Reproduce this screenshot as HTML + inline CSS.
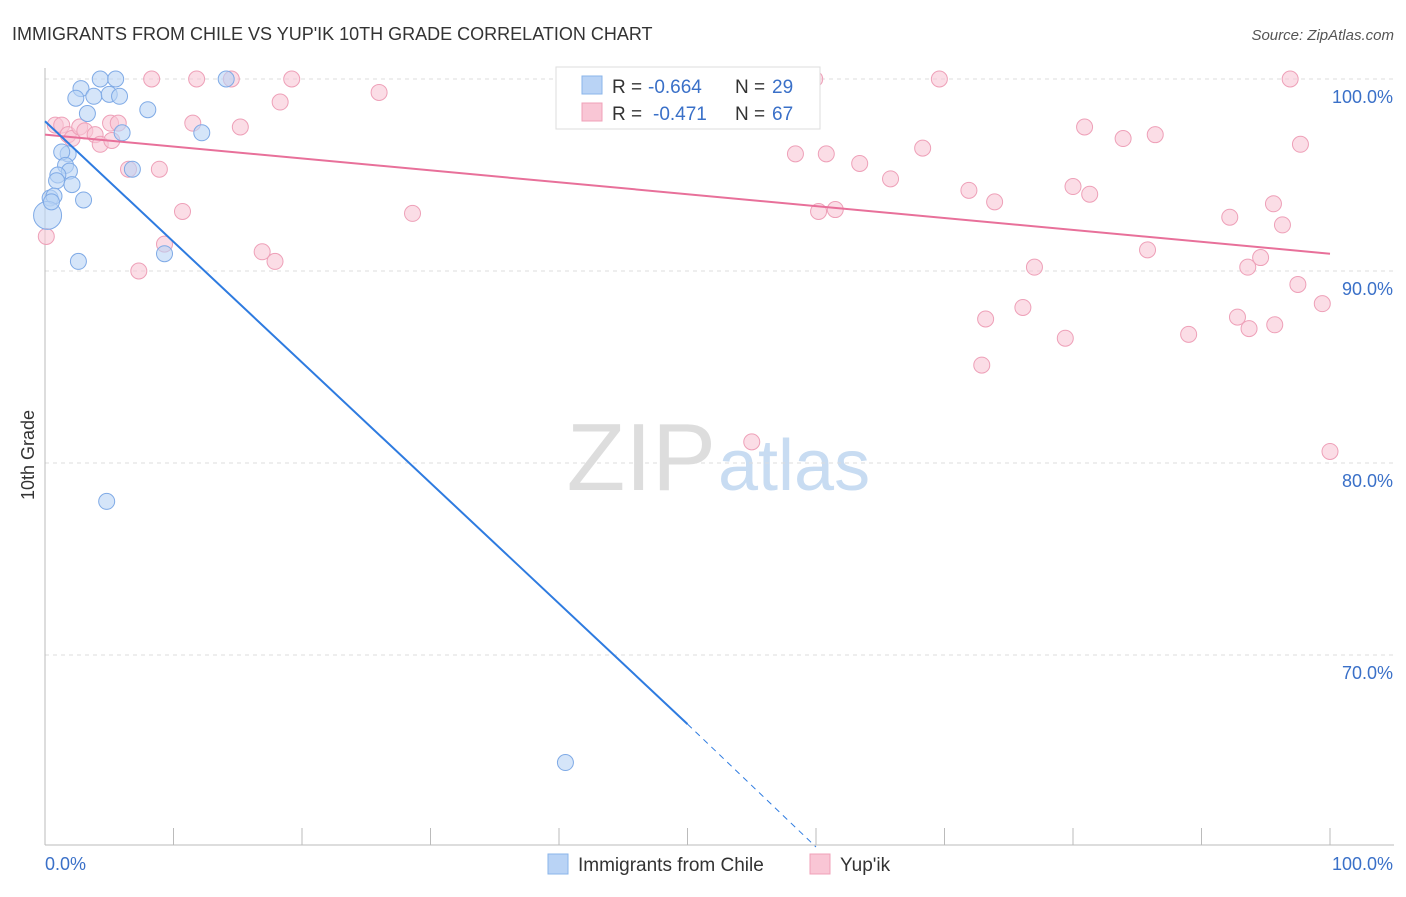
<!DOCTYPE html>
<html><head><meta charset="utf-8"><style>
body{margin:0;background:#fff;font-family:"Liberation Sans",sans-serif;}
svg text{font-family:"Liberation Sans",sans-serif;}
</style></head><body>
<svg id="chart" width="1406" height="892" xmlns="http://www.w3.org/2000/svg">
<text x="12" y="40" font-size="18" fill="#333">IMMIGRANTS FROM CHILE VS YUP'IK 10TH GRADE CORRELATION CHART</text>
<text x="1394" y="40" font-size="15" fill="#555" font-style="italic" text-anchor="end">Source: ZipAtlas.com</text>
<text x="716" y="490" font-size="96" fill="#ddd" text-anchor="end" font-family="Liberation Serif">ZIP</text>
<text x="718" y="490" font-size="72" fill="#c8dcf2">atlas</text>
<g id="grid"></g>
<g id="axes"></g>
<g id="marks"></g>
<text transform="translate(34,455) rotate(-90)" font-size="18" fill="#333" text-anchor="middle">10th Grade</text>
<g>
<rect x="556" y="67" width="264" height="62" fill="#fff" stroke="#ddd"/>
<rect x="582" y="76" width="20" height="18" fill="#b9d3f5" stroke="#8ab4ea"/>
<text x="612" y="93" font-size="19" fill="#333">R =</text>
<text x="648" y="93" font-size="19" fill="#3a70c8">-0.664</text>
<text x="735" y="93" font-size="19" fill="#333">N =</text>
<text x="772" y="93" font-size="19" fill="#3a70c8">29</text>
<rect x="582" y="103" width="20" height="18" fill="#f9c6d5" stroke="#f0a0b8"/>
<text x="612" y="120" font-size="19" fill="#333">R =</text>
<text x="653" y="120" font-size="19" fill="#3a70c8">-0.471</text>
<text x="735" y="120" font-size="19" fill="#333">N =</text>
<text x="772" y="120" font-size="19" fill="#3a70c8">67</text>
</g>
<g>
<rect x="548" y="854" width="20" height="20" fill="#b9d3f5" stroke="#8ab4ea"/>
<text x="578" y="871" font-size="19" fill="#333">Immigrants from Chile</text>
<rect x="810" y="854" width="20" height="20" fill="#f9c6d5" stroke="#f0a0b8"/>
<text x="840" y="871" font-size="19" fill="#333">Yup'ik</text>
</g>
</svg>
<script>
const yTicks=[100,90,80,70];
const yTickLabels=["100.0%","90.0%","80.0%","70.0%"];
const xTickLabels=["0.0%","100.0%"];
const chileX=[4.3,5.5,14.1,2.8,2.4,3.8,5.0,5.8,8.0,3.3,6.0,12.2,1.8,1.3,1.6,6.8,1.9,1.0,0.9,2.1,0.4,0.7,3.0,0.2,9.3,2.6,4.8,40.5,0.5];
const chileY=[100,100,100,99.5,99.0,99.1,99.2,99.1,98.4,98.2,97.2,97.2,96.1,96.2,95.5,95.3,95.2,95.0,94.7,94.5,93.8,93.9,93.7,92.9,90.9,90.5,78.0,64.4,93.6];
const yupikX=[0.8,1.3,1.8,2.1,2.7,3.1,3.9,4.3,5.1,5.7,5.2,6.5,8.3,8.9,11.8,11.5,10.7,14.5,15.2,18.3,19.2,26.0,9.3,7.3,16.9,17.9,28.6,41.5,50.0,55.0,58.4,59.9,60.2,60.8,61.5,63.4,65.8,68.3,69.6,71.9,73.9,77.0,73.2,72.9,76.1,79.4,80.0,81.3,80.9,83.9,86.4,85.8,89.0,92.2,92.8,93.6,93.7,94.6,95.6,95.7,96.3,96.9,97.7,97.5,99.4,100,0.1];
const yupikY=[97.6,97.6,97.1,96.9,97.5,97.3,97.1,96.6,97.7,97.7,96.8,95.3,100,95.3,100,97.7,93.1,100,97.5,98.8,100,99.3,91.4,90.0,91.0,90.5,93.0,100,100,81.1,96.1,100,93.1,96.1,93.2,95.6,94.8,96.4,100,94.2,93.6,90.2,87.5,85.1,88.1,86.5,94.4,94.0,97.5,96.9,97.1,91.1,86.7,92.8,87.6,90.2,87.0,90.7,93.5,87.2,92.4,100,96.6,89.3,88.3,80.6,91.8];
const trendChile=[[0,97.8],[50,66.4]];
const trendChileExt=[[50,66.4],[60,60.0]];
const trendYupik=[[0,97.1],[100,90.9]];
const X0=45,X1=1330,Y100=79,PXPCT=19.2;
const sx=v=>X0+(X1-X0)*v/100;
const sy=v=>Y100+(100-v)*PXPCT;
const NS="http://www.w3.org/2000/svg";
function mk(t,a,p){const e=document.createElementNS(NS,t);for(const k in a)e.setAttribute(k,a[k]);p.appendChild(e);return e;}
const grid=document.getElementById('grid'),axes=document.getElementById('axes'),marks=document.getElementById('marks');
yTicks.forEach((t,i)=>{
 const l=mk('line',{x1:X0,x2:1394,y1:sy(t),y2:sy(t),stroke:'#ddd','stroke-dasharray':'4,4'},grid);
 
 
 const tx=mk('text',{x:1393,y:sy(t)+24,'font-size':18,fill:'#3a70c8','text-anchor':'end'},axes);
 tx.textContent=yTickLabels[i];
 
 
});
const ax=mk('line',{x1:X0,x2:1394,y1:845,y2:845,stroke:'#bbb'},axes);


const ay=mk('line',{x1:X0,x2:X0,y1:68,y2:845,stroke:'#bbb'},axes);


for(let i=0;i<=10;i++){const t=mk('line',{x1:sx(i*10),x2:sx(i*10),y1:828,y2:845,stroke:'#bbb'},axes);
 
 }
[[0,'start',45],[1,'end',1393]].forEach(([i,a,x])=>{const t=mk('text',{x:x,y:870,'font-size':18,fill:'#3a70c8','text-anchor':a},axes);t.textContent=xTickLabels[i];
 
 });
yupikX.forEach((v,i)=>{const c=mk('circle',{cx:sx(v),cy:sy(yupikY[i]),r:8,fill:'#f9c6d5','fill-opacity':0.6,stroke:'#eea0b8'},marks);
 
 });
chileX.forEach((v,i)=>{const c=mk('circle',{cx:sx(v),cy:sy(chileY[i]),r:(i==23?14:8),fill:'#b9d3f5','fill-opacity':0.6,stroke:'#7faae6'},marks);
 
 });
const l1=mk('line',{x1:sx(trendYupik[0][0]),y1:sy(trendYupik[0][1]),x2:sx(trendYupik[1][0]),y2:sy(trendYupik[1][1]),stroke:'#e8709a','stroke-width':2},marks);


const l2=mk('line',{x1:sx(trendChile[0][0]),y1:sy(trendChile[0][1]),x2:sx(trendChile[1][0]),y2:sy(trendChile[1][1]),stroke:'#2e7be0','stroke-width':2},marks);


const l3=mk('line',{x1:sx(trendChileExt[0][0]),y1:sy(trendChileExt[0][1]),x2:sx(trendChileExt[1][0]),y2:sy(trendChileExt[1][1]),stroke:'#2e7be0','stroke-width':1,'stroke-dasharray':'6,5'},marks);


</script>
</body></html>
